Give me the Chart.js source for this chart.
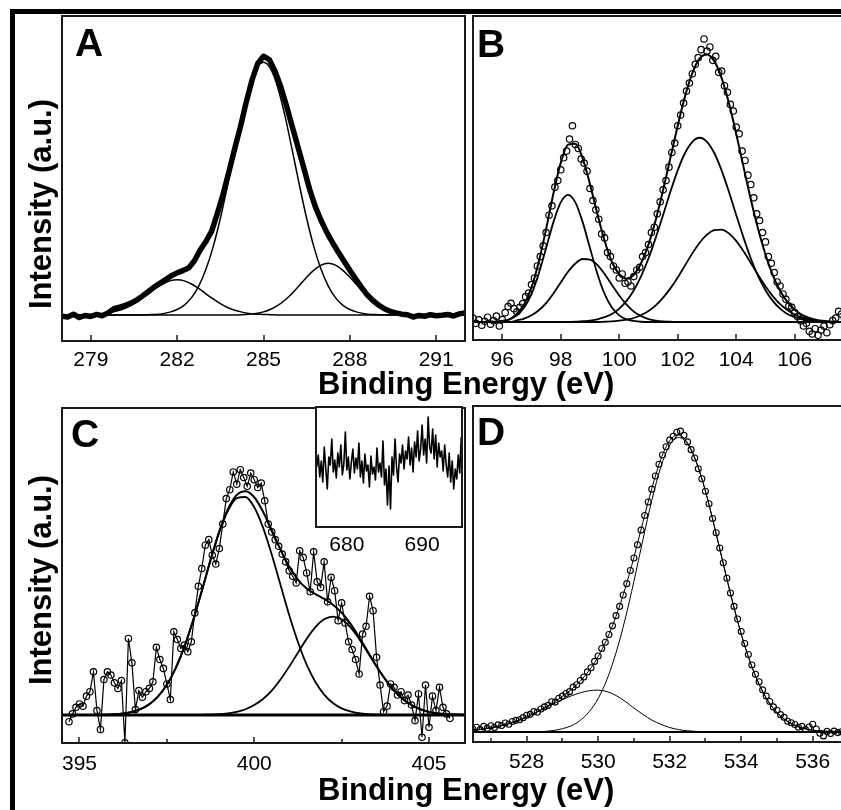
<!DOCTYPE html>
<html><head><meta charset="utf-8">
<script src="https://cdn.jsdelivr.net/npm/chart.js@4.4.1/dist/chart.umd.min.js"></script>
<style>
html,body{margin:0;padding:0;background:#fff;}
body{width:841px;height:810px;overflow:hidden;position:relative;}
#frame{position:absolute;left:10px;top:9px;width:1000px;height:1000px;border:5px solid #000;box-sizing:border-box;}
canvas{position:absolute;}
.t{position:absolute;font-family:"Liberation Sans",Arial,sans-serif;font-weight:bold;color:#000;white-space:nowrap;line-height:1;}
.rot{transform:translate(-50%,-50%) rotate(-90deg);}
</style></head><body>
<div id="frame"></div>
<canvas id="cA" width="423" height="369" style="left:52px;top:6px"></canvas>
<canvas id="cB" width="423" height="368" style="left:463px;top:6px"></canvas>
<canvas id="cC" width="423" height="379" style="left:52px;top:398px"></canvas>
<canvas id="cD" width="423" height="380" style="left:463px;top:396px"></canvas>
<canvas id="cI" width="166" height="160" style="left:306px;top:397px"></canvas>
<div class="t" style="left:75px;top:23px;font-size:39px">A</div>
<div class="t" style="left:477px;top:24px;font-size:39px">B</div>
<div class="t" style="left:71px;top:414px;font-size:39px">C</div>
<div class="t" style="left:477px;top:412px;font-size:39px">D</div>
<div class="t rot" style="left:40px;top:204px;font-size:31px">Intensity (a.u.)</div>
<div class="t rot" style="left:40px;top:580px;font-size:31px">Intensity (a.u.)</div>
<div class="t" style="left:318px;top:368px;font-size:31px">Binding Energy (eV)</div>
<div class="t" style="left:318px;top:774px;font-size:31px">Binding Energy (eV)</div>
<script>
// ---------------- DATA ----------------
// Panel A (C 1s): raw spectrum (start 278 eV, step 0.2 eV) and fitted components (start 278 eV, step 0.25 eV)
const A_RAW_START = 278, A_RAW_STEP = 0.2;
const A_RAW = [-0.5,-0.8,0.3,-1.0,-0.2,-0.6,0.2,-0.3,0.8,2.4,
  3.0,3.7,4.6,5.8,7.4,9.1,10.8,12.3,13.7,15.2,
  16.3,17.2,18.2,21.0,25.2,28.5,32.5,39.5,47.0,55.5,
  64.5,73.0,82.5,91.0,97.5,100.3,99.0,94.5,88.5,81.0,
  73.0,65.0,57.0,48.8,42.0,36.6,32.0,28.0,24.3,20.8,
  17.3,14.0,10.8,7.8,5.6,3.8,2.4,1.4,0.8,0.3,
  0.1,-0.8,-0.2,-0.5,0.1,-0.3,-0.1,0.2,-0.4,0.4,0.8];
const A_FIT_START = 278, A_FIT_STEP = 0.25;
const A_MAIN = [0,0,0,0,0,0,0,0,0,0,0,0,0.1,0.2,0.5,1.1,2.1,3.8,6.7,11.2,17.7,26.4,37.4,50.2,63.8,77.0,88.0,95.4,98,95.4,88.0,77.0,63.8,50.2,37.4,26.4,17.7,11.2,6.7,3.8,2.1,1.1,0.5,0.2,0.1,0,0,0,0,0,0,0,0,0,0,0,0];
const A_LOW = [0,0,0,0.1,0.2,0.3,0.6,1.1,1.8,2.9,4.4,6.2,8.2,10.3,12.0,13.2,13.6,13.2,12.0,10.3,8.2,6.2,4.4,2.9,1.8,1.1,0.6,0.3,0.2,0.1,0,0,0,0,0,0,0,0,0,0,0,0,0,0,0,0,0,0,0,0,0,0,0,0,0,0,0];
const A_HIGH = [0,0,0,0,0,0,0,0,0,0,0,0,0,0,0,0,0,0,0,0,0,0,0,0,0,0.1,0.3,0.6,1.2,2.2,3.7,5.8,8.4,11.5,14.6,17.4,19.3,20,19.3,17.4,14.6,11.5,8.4,5.8,3.7,2.2,1.2,0.6,0.3,0.1,0,0,0,0,0,0,0];
const A_TICKS = [279,282,285,288,291];

// Panel B (Si 2p): data points (start 95 eV, step 0.1) and fit (start 95 eV, step 0.25)
const B_RAW_START = 95, B_RAW_STEP = 0.1;
const B_RAW = [1.5,-0.5,0.8,-1.2,0.3,1.8,-0.8,0.5,2.2,-1.5,
  0.9,3.5,5.8,7.0,5.0,3.8,5.5,6.9,9.5,10.8,
  14.0,16.5,21.0,24.5,28.5,33.5,40.0,43.5,50.5,53.0,
  57.0,61.5,64.0,68.5,73.5,66.5,65.0,61.0,59.5,56.5,
  50.0,45.5,42.0,38.5,33.0,31.5,26.0,24.5,21.0,19.5,
  16.5,18.0,14.5,15.0,13.5,17.0,19.5,20.5,24.5,26.0,
  29.0,33.5,35.5,40.5,45.0,49.5,53.0,58.0,63.5,67.0,
  73.5,77.5,82.0,86.5,89.5,93.0,96.5,99.0,102.0,106.0,
  101.5,103.0,98.0,99.5,93.5,94.0,88.5,86.0,81.5,79.0,
  73.0,70.5,64.0,60.5,55.0,51.5,46.5,40.5,38.0,33.5,
  30.0,24.5,22.0,18.5,15.0,13.5,10.5,8.5,6.0,5.5,
  3.5,2.0,0.5,-1.5,-0.5,-3.5,-4.5,-2.5,-5.0,-3.0,
  -1.5,-4.0,-1.0,0.5,1.5,4.0,3.0,1.5,2.5];
const B_FIT_START = 95, B_FIT_STEP = 0.25;
const B_ENV = [0,0,0,0.1,0.4,1.0,3.1,6.7,13.0,22.6,34.8,48.1,59.6,66.4,66.8,61.3,51.6,40.6,30.4,22.5,17.9,16.3,17.7,22.1,29.0,38.3,49.4,61.5,73.5,84.5,93.2,98.7,100.2,97.7,91.4,82.0,70.5,58.1,45.9,34.8,25.3,17.6,11.7,7.5,4.6,2.7,1.5,0.8,0.4,0.1,0,0,0,0,0,0];
const B_P1 = [0,0,0,0.1,0.4,1.0,2.5,5.4,10.5,18.2,27.7,37.4,44.8,47.6,44.8,37.4,27.7,18.2,10.5,5.4,2.5,1.0,0.4,0.1,0,0,0,0,0,0,0,0,0,0,0,0,0,0,0,0,0,0,0,0,0,0,0,0,0,0,0,0,0,0,0,0];
const B_P2 = [0,0,0,0,0,0,0.6,1.3,2.5,4.4,7.1,10.7,14.8,18.8,21.9,23.6,23.4,21.4,18.0,13.9,9.9,6.5,3.9,2.2,1.1,0.5,0.2,0.1,0,0,0,0,0,0,0,0,0,0,0,0,0,0,0,0,0,0,0,0,0,0,0,0,0,0,0,0];
const B_P3 = [0,0,0,0,0,0,0,0,0,0,0,0,0,0,0.1,0.3,0.5,1.0,1.8,3.0,5.0,7.9,11.9,17.2,23.8,31.6,40.1,48.8,56.8,63.3,67.5,69,67.5,63.3,56.8,48.8,40.1,31.6,23.8,17.2,11.9,7.9,5.0,3.0,1.8,1.0,0.5,0.3,0.1,0,0,0,0,0,0,0];
const B_P4 = [0,0,0,0,0,0,0,0,0,0,0,0,0,0,0,0,0,0,0.1,0.2,0.5,0.9,1.5,2.6,4.1,6.2,9.1,12.6,16.7,21.2,25.7,29.7,32.7,34.4,34.6,33.2,30.4,26.5,22.1,17.6,13.4,9.7,6.7,4.5,2.8,1.7,1.0,0.5,0.3,0.1,0,0,0,0,0,0];
const B_TICKS = [96,98,100,102,104,106];

// Panel C (N 1s): data (start 394.7 eV, step 0.1) and fit (start 394.5 eV, step 0.25)
const C_RAW_START = 394.7, C_RAW_STEP = 0.1;
const C_RAW = [-3.0,0.5,3.5,5.0,4.0,8.5,10.5,19.5,2.0,-6.5,
  16.0,19.5,18.0,14.5,12.0,15.5,-12.5,34.5,23.5,2.5,
  11.0,8.0,10.5,12.0,15.0,30.5,25.0,21.0,14.0,7.0,
  37.5,34.0,30.0,31.5,28.5,33.0,46.0,58.0,66.0,76.5,
  79.0,72.0,68.0,75.0,86.0,97.5,101.5,109.5,104.0,110.5,
  107.0,103.0,109.0,106.0,102.5,104.5,96.5,86.0,82.5,79.0,
  76.0,72.5,69.0,65.0,62.5,59.5,74.0,71.0,64.0,55.5,
  73.5,60.0,57.5,69.0,51.0,62.0,56.0,42.5,50.5,41.5,
  33.0,29.5,25.0,18.5,36.5,40.0,53.5,47.0,26.0,13.5,
  1.5,4.0,14.0,12.5,9.0,10.5,6.5,9.0,4.5,-2.5,
  9.5,-10.0,13.5,-5.5,8.5,2.0,12.5,3.5,0.5,-1.5];
const C_FIT_START = 394.5, C_FIT_STEP = 0.25;
const C_ENV = [0,0,0,0,0.1,0.1,0.3,0.7,1.4,2.7,4.9,8.4,13.6,21.0,30.7,42.6,56.0,69.9,82.7,92.8,99.1,100.8,98.1,91.7,83.3,74.7,66.9,61.0,57.0,54.5,52.3,49.7,46.1,41.2,35.1,28.5,22.0,16.1,11.0,7.2,4.5,2.6,1.4,0.7,0.4,0.2,0.1];
const C_P1 = [0,0,0,0,0.1,0.1,0.3,0.7,1.4,2.7,4.9,8.4,13.6,21.0,30.7,42.6,55.9,69.7,82.3,92.1,97.7,98.2,93.6,84.5,72.3,58.7,45.1,32.9,22.7,14.9,9.2,5.4,3.0,1.6,0.8,0.4,0.2,0.1,0,0,0,0,0,0,0,0,0];
const C_P2 = [0,0,0,0,0,0,0,0,0,0,0,0,0,0,0,0,0.1,0.2,0.4,0.7,1.4,2.6,4.5,7.2,11.0,16.0,21.8,28.1,34.3,39.6,43.1,44.3,43.1,39.6,34.3,28.1,21.8,16.0,11.0,7.2,4.5,2.6,1.4,0.7,0.4,0.2,0.1];
const C_TICKS = [395,400,405];
const C_MINOR = [397.5,402.5];

// Inset of panel C (676-695 eV region), start 676 eV, step 0.2
const I_START = 676, I_STEP = 0.2;
const I_RAW = [60,72,50,66,45,80,58,38,70,62,88,55,67,49,74,60,82,52,63,95,
  57,70,48,65,78,54,69,58,84,50,66,44,73,56,62,40,71,53,60,47,
  79,55,64,50,86,42,58,22,61,18,70,52,88,60,45,73,64,82,58,76,
  68,90,62,79,55,85,70,96,66,78,102,72,88,64,110,80,74,98,68,92,
  60,84,70,76,56,82,62,50,74,45,66,38,58,48,72,54,90];
const I_TICKS = [680,690];

// Panel D (O 1s): data (start 526.5 eV, step 0.1) and fit (start 526.5 eV, step 0.25)
const D_RAW_START = 526.5, D_RAW_STEP = 0.1;
const D_RAW = [0.9,1.6,0.8,1.9,1.2,2.1,1.5,2.4,2.2,3.0,
  2.6,3.5,3.9,4.1,4.8,5.6,5.9,6.8,6.6,7.7,
  8.4,8.9,10.1,10.0,11.3,12.0,12.9,13.5,15.0,15.8,
  17.2,18.4,20.1,21.5,23.6,25.4,27.9,30.0,32.6,35.5,
  38.9,42.0,45.8,49.6,54.0,58.2,62.6,67.5,72.4,76.9,
  81.2,85.6,89.5,92.6,95.4,97.6,98.9,100.2,100.6,99.2,
  97.0,94.4,91.6,88.0,84.7,80.5,76.3,71.4,66.6,61.5,
  56.6,51.4,46.5,42.0,37.8,33.6,29.6,25.9,22.4,19.3,
  16.8,14.1,12.0,10.2,8.4,7.3,5.8,4.9,3.6,3.1,
  2.5,1.6,1.9,0.8,1.7,2.6,1.0,-0.4,-1.3,0.2,
  -0.5,0.3,-0.2,0.1,-0.3,0.2,0.0,0.3,-0.2,0.1,
  0.0,0.2,-0.1,0.0];
const D_FIT_START = 526.5, D_FIT_STEP = 0.25;
const D_ENV = [0.6,0.9,1.4,2.0,2.8,3.8,5.0,6.5,8.1,9.9,11.9,14.2,17.0,20.6,25.2,31.2,38.7,47.8,58.4,70.1,81.4,91.1,97.4,99.3,96.7,90.2,80.6,68.8,56.2,43.9,32.8,23.4,16.0,10.4,6.5,3.9,2.2,1.2,0.6,0.3,0.2,0.1,0,0,0,0,0];
const D_MAIN = [0,0,0,0,0,0,0,0.1,0.2,0.5,1.1,2.1,3.9,6.8,11.2,17.7,26.5,37.5,50.4,64.2,77.4,88.5,95.9,98.5,96.3,90.0,80.5,68.8,56.2,43.9,32.8,23.4,16.0,10.4,6.5,3.9,2.2,1.2,0.6,0.3,0.2,0.1,0,0,0,0,0];
const D_LOW = [0.6,0.9,1.4,2.0,2.8,3.8,5.0,6.4,7.9,9.4,10.8,12.1,13.1,13.8,14.0,13.5,12.2,10.3,8.0,5.9,4.0,2.6,1.5,0.8,0.4,0.2,0.1,0,0,0,0,0,0,0,0,0,0,0,0,0,0,0,0,0,0,0,0];
const D_TICKS = [528,530,532,534,536];
const D_MINOR = [527,529,531,533,535,537];

// ---------------- CHARTS ----------------
Chart.defaults.font.family = '"Liberation Sans", Arial, sans-serif';
Chart.defaults.color = '#000';

function pts(start, step, ys){ return ys.map((y,i)=>({x: Math.round((start+i*step)*1000)/1000, y})); }
function line(data, lw, smooth){ return {data, showLine:true, borderColor:'#000', borderWidth:lw, pointRadius:0, pointHoverRadius:0, fill:false, tension:0, cubicInterpolationMode: smooth?'monotone':'default', clip:0, borderJoinStyle:'round'}; }
function circles(data, r, lw, connectLw){ return {data, showLine:!!connectLw, borderColor:'#000', borderWidth:connectLw||0, pointRadius:r, pointHoverRadius:r, pointBorderWidth:lw, pointBorderColor:'#000', pointBackgroundColor:'rgba(0,0,0,0)', fill:false, tension:0, clip:0}; }

const boxPlugin = {
  id:'boxPlugin',
  beforeDatasetsDraw(chart, args, o){
    if (o.fill){ const a=chart.chartArea, c=chart.ctx; c.save(); c.fillStyle=o.fill; c.fillRect(a.left,a.top,a.right-a.left,a.bottom-a.top); c.restore(); }
  },
  afterDatasetsDraw(chart, args, o){
    const c = chart.ctx, a = chart.chartArea, x = chart.scales.x;
    c.save(); c.strokeStyle = '#1a1a1a';
    c.beginPath();
    (o.major||[]).forEach(v=>{ const p = Math.round(x.getPixelForValue(v)); c.moveTo(p, a.bottom); c.lineTo(p, a.bottom-6); });
    (o.minor||[]).forEach(v=>{ const p = Math.round(x.getPixelForValue(v)); c.moveTo(p, a.bottom); c.lineTo(p, a.bottom-4); });
    c.lineWidth = 1.5; c.stroke();
    c.lineWidth = o.lw || 2;
    c.strokeRect(a.left, a.top, a.right-a.left, a.bottom-a.top);
    c.restore();
  }
};

function makeChart(id, o){
  return new Chart(document.getElementById(id), {
    type:'scatter',
    data:{datasets:o.datasets},
    options:{
      responsive:false, animation:false, events:[],
      layout:{padding:{left:10,right:10,top:10,bottom:0}},
      plugins:{legend:{display:false}, tooltip:{enabled:false},
        boxPlugin:{major:o.tickMarks===false?[]:o.ticks, minor:o.minor||[], fill:o.fill, lw:o.boxLw}},
      scales:{
        x:{type:'linear', min:o.xmin, max:o.xmax, grid:{display:false}, border:{display:false},
           ticks:{autoSkip:false, maxRotation:0, minRotation:0, padding:o.pad, color:'#000', font:{size:21}},
           afterBuildTicks:s=>{ s.ticks = o.ticks.map(v=>({value:v})); },
           afterFit:s=>{ s.height = o.axisH; s.paddingLeft = 0; s.paddingRight = 0; }},
        y:{type:'linear', display:false, min:o.ymin, max:o.ymax}
      }
    },
    plugins:[boxPlugin]
  });
}

// A
makeChart('cA', {xmin:278, xmax:292, ymin:-10.1, ymax:115.9, ticks:A_TICKS, pad:-1, axisH:34,
  datasets:[
    line(pts(A_RAW_START, A_RAW_STEP, A_RAW), 5.5, false),
    line(pts(A_FIT_START, A_FIT_STEP, A_MAIN), 1.5, true),
    line(pts(A_FIT_START, A_FIT_STEP, A_LOW), 1.5, true),
    line(pts(A_FIT_START, A_FIT_STEP, A_HIGH), 1.5, true)
  ]});
// B
makeChart('cB', {xmin:95, xmax:108.78, ymin:-6.74, ymax:114.6, ticks:B_TICKS, pad:0, axisH:34,
  datasets:[
    circles(pts(B_RAW_START, B_RAW_STEP, B_RAW), 3.2, 1.2),
    line(pts(B_FIT_START, B_FIT_STEP, B_ENV), 2, true),
    line(pts(B_FIT_START, B_FIT_STEP, B_P1), 1.8, true),
    line(pts(B_FIT_START, B_FIT_STEP, B_P2), 1.8, true),
    line(pts(B_FIT_START, B_FIT_STEP, B_P3), 1.8, true),
    line(pts(B_FIT_START, B_FIT_STEP, B_P4), 1.8, true)
  ]});
// C
makeChart('cC', {xmin:394.5, xmax:406.03, ymin:-12.6, ymax:138.3, ticks:C_TICKS, minor:C_MINOR, pad:1, axisH:34,
  datasets:[
    circles(pts(C_RAW_START, C_RAW_STEP, C_RAW), 3.2, 1.2, 1.2),
    line(pts(C_FIT_START, C_FIT_STEP, C_ENV), 2, true),
    line(pts(C_FIT_START, C_FIT_STEP, C_P1), 1.8, true),
    line(pts(C_FIT_START, C_FIT_STEP, C_P2), 1.8, true),
    line([{x:394.5,y:0},{x:406.03,y:0}], 3, false)
  ]});
// Inset
makeChart('cI', {xmin:675.9, xmax:695.3, ymin:0, ymax:120, ticks:I_TICKS, tickMarks:false, pad:-2, axisH:30, fill:'#fff', boxLw:2,
  datasets:[ line(pts(I_START, I_STEP, I_RAW), 1.6, false) ]});
// D
makeChart('cD', {xmin:526.5, xmax:537.77, ymin:-3.34, ymax:109.0, ticks:D_TICKS, minor:D_MINOR, pad:0, axisH:34,
  datasets:[
    circles(pts(D_RAW_START, D_RAW_STEP, D_RAW), 3, 1.1),
    line(pts(D_FIT_START, D_FIT_STEP, D_ENV), 1, true),
    line(pts(D_FIT_START, D_FIT_STEP, D_MAIN), 1, true),
    line(pts(D_FIT_START, D_FIT_STEP, D_LOW), 1, true),
    line([{x:526.5,y:0},{x:537.77,y:0}], 2, false)
  ]});
</script>
</body></html>
